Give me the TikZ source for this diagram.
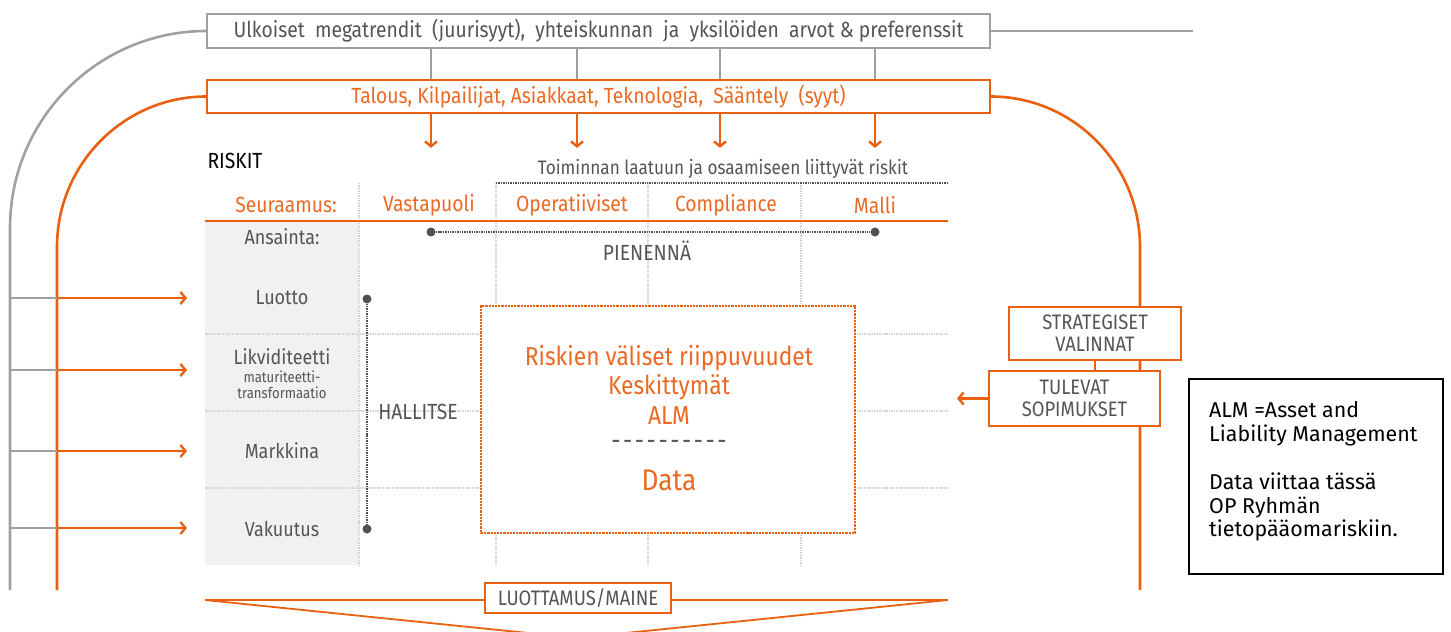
\documentclass[tikz,border=0pt]{standalone}
\usepackage{fontspec}
\setmainfont[FakeStretch=0.88]{Fira Sans}
\newfontfamily\legendfont{Fira Sans}
\usetikzlibrary{arrows.meta}
\definecolor{opor}{RGB}{232,96,16}
\definecolor{optxt}{RGB}{235,105,35}
\definecolor{gline}{RGB}{160,160,160}
\definecolor{gtxt}{RGB}{85,85,85}
\definecolor{gridc}{RGB}{212,212,212}
\definecolor{colbg}{RGB}{241,241,241}
\definecolor{dotc}{RGB}{80,80,80}
\tikzset{
  fsz/.style={font=\fontsize{#1}{#1}\selectfont},
  graybox/.style={draw=gline, line width=1.5bp, fill=white, inner sep=0pt},
  orbox/.style={draw=opor, line width=1.8bp, fill=white, inner sep=0pt},
  oarc/.style={draw=opor, line width=2.6bp},
  garc/.style={draw=gline, line width=2.6bp},
  gthin/.style={draw=gline, line width=1.3bp},
  oarrow/.style={draw=opor, line width=2.4bp, -{Straight Barb[length=5bp,width=12bp]}},
  gridline/.style={draw=gridc, line width=1.5bp, densely dotted},
  dotline/.style={draw=dotc, line width=1.4bp, densely dotted},
  enddot/.style={circle, fill=dotc, inner sep=0pt, minimum size=9bp},
  hdr/.style={text=optxt, fsz=22},
  rowlbl/.style={text=gtxt, fsz=20.5},
  capbox/.style={orbox, text=gtxt, font=\fontsize{21}{22}\selectfont, align=center},
}
\begin{document}
\begin{tikzpicture}[x=1bp,y=-1bp]
\useasboundingbox (0,0) rectangle (1451,632);

% column coordinates
\coordinate (cA) at (431,0);
\coordinate (cB) at (577,0);
\coordinate (cC) at (720,0);
\coordinate (cD) at (875,0);

% top boxes
\node[graybox, minimum width=783bp, minimum height=34bp, text=gtxt, fsz=22] (top) at (598.5,31)
  {Ulkoiset\ \ megatrendit\ \ (juurisyyt),\ \ yhteiskunnan\ \ ja\ \ yksilöiden\ \ arvot \& preferenssit};
\node[orbox, minimum width=783bp, minimum height=33bp, text=optxt, fsz=22] (mid) at (598.5,96.5)
  {Talous, Kilpailijat, Asiakkaat, Teknologia,\ \ Sääntely\ \ (syyt)};

\foreach \c in {cA,cB,cC,cD}{
  \draw[gthin] (top.south -| \c) -- (mid.north -| \c);
  \draw[oarrow] (mid.south -| \c) -- ++(0,34);
}

% big arcs
\coordinate (gEnd) at (10,590);
\coordinate (oLEnd) at (57,590);
\coordinate (oREnd) at (1140,590);
\coordinate (gRight) at (1193,31);
\draw[garc] (top.west) .. controls (98,31) and (10,119) .. (10,228) -- (gEnd);
\draw[garc] (top.east) -- (gRight);
\draw[oarc] (mid.west) .. controls (124,96.5) and (57,164) .. (57,247) -- (oLEnd);
\draw[oarc] (mid.east) .. controls (1073,96.5) and (1140,164) .. (1140,247) -- (oREnd);

% left arrows
\foreach \y in {298,370,451,528}{
  \coordinate (gl\y) at (10,\y);
  \coordinate (ol\y) at (57,\y);
  \coordinate (ar\y) at (187,\y);
  \draw[gthin] (gl\y) -- (ol\y);
  \draw[oarrow] (ol\y) -- (ar\y);
}

% grey column and grid
\fill[colbg] (205,221) rectangle (359,565);
\foreach \x in {359,496,648,801}{
  \draw[gridline] (\x,183) -- (\x,565);
}
\foreach \y in {334,411,488}{
  \draw[gridline] (205,\y) -- (948,\y);
}

\node[anchor=west, text=black, fsz=22] (riskit) at (204,161) {RISKIT};
\node[text=gtxt, fsz=19.6] (toim) at (723,169) {Toiminnan laatuun ja osaamiseen liittyvät riskit};
\coordinate (tl1) at (496,183);
\coordinate (tl2) at (948,183);
\draw[dotline] (tl1) -- (tl2);

\node[hdr] (h0) at (286,205) {Seuraamus:};
\node[hdr] (h1) at (429,205) {Vastapuoli};
\node[hdr] (h2) at (572,205) {Operatiiviset};
\node[hdr] (h3) at (726,205) {Compliance};
\node[hdr] (h4) at (875,205) {Malli};
\coordinate (ol1) at (205,221);
\coordinate (ol2) at (948,221);
\draw[draw=opor, line width=1.5bp] (ol1) -- (ol2);

% row labels
\node[rowlbl] (r0) at (282,237) {Ansainta:};
\node[rowlbl] (r1) at (282,298) {Luotto};
\node[rowlbl] (r2) at (282,357) {Likviditeetti};
\node[text=gtxt, font=\fontsize{15}{16}\selectfont, align=center] (r2b) at (282,385) {maturiteetti-\\transformaatio};
\node[rowlbl] (r3) at (282,451) {Markkina};
\node[rowlbl] (r4) at (282,529) {Vakuutus};

% PIENENNÄ
\node[enddot] (p1) at (431,232) {};
\node[enddot] (p2) at (875,232) {};
\draw[dotline] (p1) -- (p2);
\node[text=gtxt, fsz=22] (pien) at (647,251) {PIENENNÄ};

% HALLITSE
\node[enddot] (q1) at (367,299) {};
\node[enddot] (q2) at (367,529) {};
\draw[dotline] (q1) -- (q2);
\node[text=gtxt, fsz=22] (hall) at (418,412) {HALLITSE};

% central box
\node[draw=opor, line width=2.2bp, densely dotted, fill=white, minimum width=374bp, minimum height=227bp, inner sep=0pt] (core) at (668,419.5) {};
\node[text=optxt, fsz=26] (c1) at (669,358) {Riskien väliset riippuvuudet};
\node[text=optxt, fsz=26] (c2) at (669,387) {Keskittymät};
\node[text=optxt, fsz=26] (c3) at (669,416) {ALM};
\node[text=gtxt, fsz=26] (c4) at (669,445) {-\kern2.6bp-\kern2.6bp-\kern2.6bp-\kern2.6bp-\kern2.6bp-\kern2.6bp-\kern2.6bp-\kern2.6bp-\kern2.6bp-};
\node[text=optxt, fsz=30] (c5) at (669,480) {Data};

% right boxes
\node[capbox, minimum width=172bp, minimum height=53bp] (strat) at (1095,333.5)
  {STRATEGISET\\VALINNAT};
\node[capbox, minimum width=171bp, minimum height=55bp] (tul) at (1074.5,398.5)
  {TULEVAT\\SOPIMUKSET};
\draw[draw=opor, line width=1.2bp] (strat.south) -- (strat.south |- tul.north);
\coordinate (tarr) at (957,398.5);
\draw[oarrow] (tul.west) -- (tarr);

% legend
\node[draw=black, line width=1.3bp, minimum width=254bp, minimum height=195bp, inner sep=0pt] (leg) at (1316,476.5) {};
\node[anchor=north west, align=left, text=black, font=\legendfont\fontsize{21.5}{24}\selectfont, inner sep=0pt] (legtxt) at (1209,401)
  {ALM =Asset and\\Liability Management\\[24bp]Data viittaa tässä\\OP Ryhmän\\tietopääomariskiin.};

% bottom
\coordinate (b1) at (205,600);
\coordinate (b2) at (948,600);
\coordinate (bapex) at (577,638);
\begin{scope}
\clip (0,0) rectangle (1451,632);
\draw[draw=opor, line width=1.8bp] (b1) -- (b2);
\draw[draw=opor, line width=1.8bp] (b1) -- (bapex) -- (b2);
\end{scope}
\node[orbox, minimum width=186bp, minimum height=30bp, text=gtxt, fsz=21] (lm) at (578,598) {LUOTTAMUS/MAINE};

\end{tikzpicture}
\end{document}
